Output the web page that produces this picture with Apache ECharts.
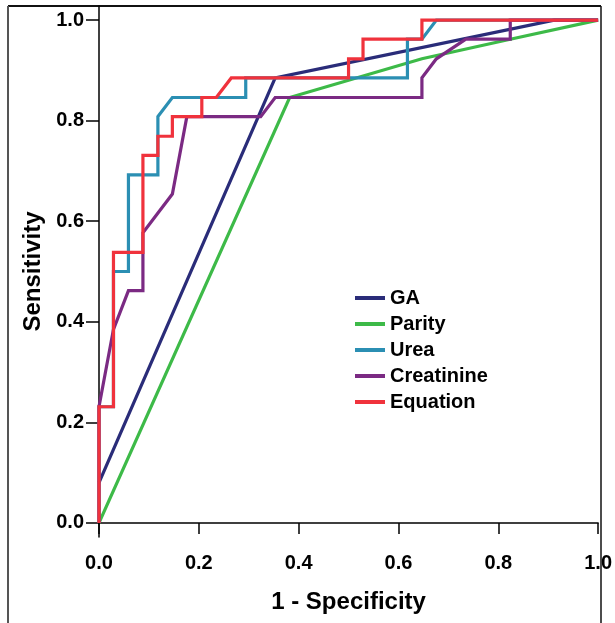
<!DOCTYPE html>
<html>
<head>
<meta charset="utf-8">
<script src="https://cdn.jsdelivr.net/npm/echarts@6/dist/echarts.min.js"></script>
<style>
html,body{margin:0;padding:0;background:#fff;}
#chart{width:615px;height:623px;}
</style>
</head>
<body>
<div id="chart"></div>
<script>
// ----- data -----
var seriesNames = ['GA', 'Parity', 'Urea', 'Creatinine', 'Equation'];
var xTicks = [0, 0.2, 0.4, 0.6, 0.8, 1.0];
var yTicks = [0, 0.2, 0.4, 0.6, 0.8, 1.0];

var gaFpr = [0, 0.353, 0.912, 1];
var gaTpr = [0.08, 0.885, 1, 1];

var parityFpr = [0, 0.382, 0.647, 0.824, 1];
var parityTpr = [0, 0.846, 0.923, 0.962, 1];

var ureaFpr = [0, 0, 0.029, 0.029, 0.059, 0.059, 0.118, 0.118, 0.147, 0.294, 0.294, 0.618, 0.618, 0.647, 0.676, 1];
var ureaTpr = [0, 0.231, 0.231, 0.5, 0.5, 0.692, 0.692, 0.808, 0.846, 0.846, 0.885, 0.885, 0.962, 0.962, 1, 1];

var creatFpr = [0, 0, 0.029, 0.059, 0.088, 0.088, 0.147, 0.176, 0.324, 0.353, 0.647, 0.647, 0.676, 0.735, 0.824, 0.824, 1];
var creatTpr = [0, 0.231, 0.385, 0.462, 0.462, 0.577, 0.654, 0.808, 0.808, 0.846, 0.846, 0.885, 0.923, 0.962, 0.962, 1, 1];

var eqFpr = [0, 0, 0.029, 0.029, 0.088, 0.088, 0.118, 0.118, 0.147, 0.147, 0.206, 0.206, 0.235, 0.265, 0.5, 0.5, 0.529, 0.529, 0.647, 0.647, 1];
var eqTpr = [0, 0.231, 0.231, 0.538, 0.538, 0.731, 0.731, 0.769, 0.769, 0.808, 0.808, 0.846, 0.846, 0.885, 0.885, 0.923, 0.923, 0.962, 0.962, 1, 1];

var colors = ['#2a2c79', '#3dba48', '#2b8fb3', '#7b2a83', '#f0323c'];

function pairs(xs, ys) { return xs.map(function (x, i) { return [x, ys[i]]; }); }
var allData = [pairs(gaFpr, gaTpr), pairs(parityFpr, parityTpr), pairs(ureaFpr, ureaTpr),
               pairs(creatFpr, creatTpr), pairs(eqFpr, eqTpr)];

var FONT = '"Liberation Sans", Arial, sans-serif';
var chart = echarts.init(document.getElementById('chart'), null, {renderer: 'canvas'});
chart.setOption({
  animation: false,
  backgroundColor: '#fff',
  color: colors,
  grid: {left: 99, right: 14, top: 6, bottom: 86, show: false},
  legend: {
    orient: 'vertical', left: 355, top: 288, padding: 0,
    icon: 'rect', itemWidth: 30, itemHeight: 4, itemGap: 6,
    textStyle: {fontFamily: FONT, fontWeight: 'bold', fontSize: 20, lineHeight: 20, color: '#000'},
    data: seriesNames
  },
  xAxis: {
    type: 'value', min: 0, max: 1, interval: 0.2,
    name: '1 - Specificity', nameLocation: 'middle', nameGap: 53,
    nameTextStyle: {fontFamily: FONT, fontWeight: 'bold', fontSize: 24, color: '#000'},
    axisLine: {show: true, lineStyle: {color: '#000', width: 1.5}},
    axisTick: {show: true, length: 11, lineStyle: {color: '#000', width: 1.5}},
    axisLabel: {margin: 16, fontFamily: FONT, fontWeight: 'bold', fontSize: 20, color: '#000',
      formatter: function (v) { return v.toFixed(1); }},
    splitLine: {show: false}
  },
  yAxis: {
    type: 'value', min: -0.028, max: 1.028,
    name: 'Sensitivity', nameLocation: 'middle', nameGap: 49,
    nameTextStyle: {fontFamily: FONT, fontWeight: 'bold', fontSize: 24, color: '#000'},
    axisLine: {show: true, lineStyle: {color: '#000', width: 1.5}},
    axisTick: {show: true, length: 13, customValues: yTicks, lineStyle: {color: '#000', width: 1.5}},
    axisLabel: {margin: 15, customValues: yTicks, fontFamily: FONT, fontWeight: 'bold', fontSize: 20, color: '#000',
      formatter: function (v) { return v.toFixed(1); }},
    splitLine: {show: false}
  },
  graphic: [
    {type: 'line', shape: {x1: 8, y1: 6, x2: 601, y2: 6}, style: {stroke: '#111', lineWidth: 2}},
    {type: 'line', shape: {x1: 8, y1: 6, x2: 8, y2: 623}, style: {stroke: '#555', lineWidth: 2}},
    {type: 'line', shape: {x1: 601, y1: 6, x2: 601, y2: 623}, style: {stroke: '#111', lineWidth: 1.5}}
  ],
  series: seriesNames.map(function (n, i) {
    return {
      name: n, type: 'line', data: allData[i], showSymbol: false, symbol: 'none',
      clip: false, lineStyle: {width: 3.2, color: colors[i], join: 'miter'}, z: 2 + i
    };
  })
});
</script>
</body>
</html>
